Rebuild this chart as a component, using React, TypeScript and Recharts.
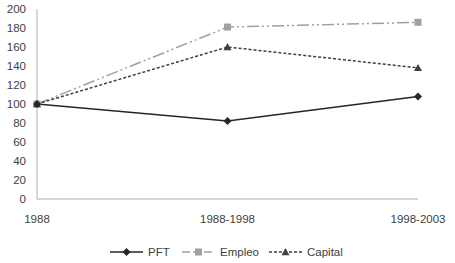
import React from "react";
import { LineChart, Line, XAxis, YAxis } from "recharts";

const categories = ["1988", "1988-1998", "1998-2003"];
const pftValues = [100, 82, 108];
const empleoValues = [100, 181, 186];
const capitalValues = [100, 160, 138];
const yTicks = [0, 20, 40, 60, 80, 100, 120, 140, 160, 180, 200];

const data = categories.map((c, i) => ({
  cat: c,
  PFT: pftValues[i],
  Empleo: empleoValues[i],
  Capital: capitalValues[i],
}));

const FONT = "'Liberation Sans', Arial, sans-serif";
const C_PFT = "#262626";
const C_EMP = "#a0a0a0";
const C_CAP = "#404040";
const DASH_EMP = "12 3 2 3 2 3";
const DASH_CAP = "3 2";

const Diamond = (props: any) => {
  const { cx, cy, fill } = props;
  const s = 4;
  return <path d={`M${cx},${cy - s}L${cx + s},${cy}L${cx},${cy + s}L${cx - s},${cy}Z`} fill={fill} />;
};
const Square = (props: any) => {
  const { cx, cy, fill } = props;
  const s = 3.5;
  return <rect x={cx - s} y={cy - s} width={2 * s} height={2 * s} fill={fill} />;
};
const Triangle = (props: any) => {
  const { cx, cy, fill } = props;
  const s = 4;
  return <path d={`M${cx},${cy - s}L${cx + s},${cy + s * 0.8}L${cx - s},${cy + s * 0.8}Z`} fill={fill} />;
};

const LegendItem = ({ x, label, color, dash, Marker }: any) => (
  <g>
    <line x1={x} x2={x + 33} y1={252} y2={252} stroke={color} strokeWidth={1.5} strokeDasharray={dash} />
    <Marker cx={x + 16.5} cy={252} fill={color} />
    <text x={x + 38} y={252} dy="0.35em" fontSize={11.5} fontFamily={FONT} fill="#404040">
      {label}
    </text>
  </g>
);

export default function App() {
  return (
    <div style={{ position: "absolute", left: 0, top: 0, width: 455, height: 263, background: "#fff" }}>
      <LineChart
        width={455}
        height={263}
        data={data}
        margin={{ top: 9, right: 37, left: 0, bottom: 34 }}
      >
        <XAxis
          dataKey="cat"
          height={30}
          tickLine={false}
          tickSize={0}
          tickMargin={16}
          axisLine={{ stroke: "#b0b0b0" }}
          tick={{ fontSize: 11.5, fontFamily: FONT, fill: "#404040" }}
          interval={0}
          padding={{ left: 0, right: 0 }}
        />
        <YAxis
          width={37}
          domain={[0, 200]}
          ticks={yTicks}
          interval={0}
          tickLine={false}
          tickSize={0}
          tickMargin={11}
          axisLine={{ stroke: "#b0b0b0" }}
          tick={{ fontSize: 11.5, fontFamily: FONT, fill: "#404040" }}
        />
        <Line
          dataKey="Empleo"
          stroke={C_EMP}
          strokeWidth={1.5}
          strokeDasharray={DASH_EMP}
          dot={(p: any) => <Square key={p.index} {...p} fill={C_EMP} />}
          isAnimationActive={false}
          type="linear"
        />
        <Line
          dataKey="Capital"
          stroke={C_CAP}
          strokeWidth={1.5}
          strokeDasharray={DASH_CAP}
          dot={(p: any) => <Triangle key={p.index} {...p} fill={C_CAP} />}
          isAnimationActive={false}
          type="linear"
        />
        <Line
          dataKey="PFT"
          stroke={C_PFT}
          strokeWidth={1.5}
          dot={(p: any) => <Diamond key={p.index} {...p} fill={C_PFT} />}
          isAnimationActive={false}
          type="linear"
        />
        <g>
          <LegendItem x={110} label="PFT" color={C_PFT} Marker={Diamond} />
          <LegendItem x={182} label="Empleo" color={C_EMP} dash="8 3" Marker={Square} />
          <LegendItem x={269} label="Capital" color={C_CAP} dash="3 2" Marker={Triangle} />
        </g>
      </LineChart>
    </div>
  );
}
